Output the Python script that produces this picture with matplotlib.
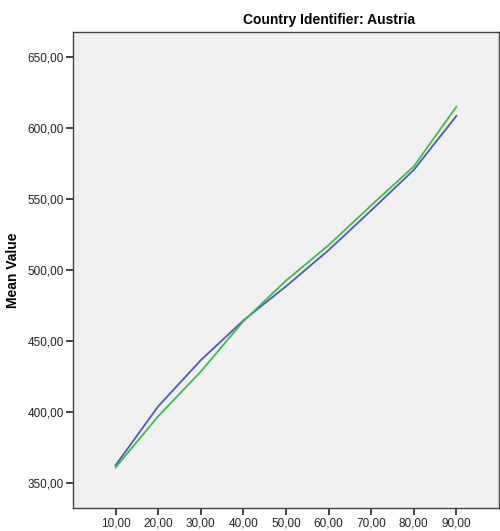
import matplotlib
matplotlib.use("Agg")
import matplotlib.pyplot as plt
from matplotlib.ticker import FuncFormatter

# percentile points and the two mean-value series
percentiles = [10, 20, 30, 40, 50, 60, 70, 80, 90]
series_blue = [362.5, 404.0, 436.5, 464.5, 488.5, 514.0, 542.0, 570.5, 608.5]
series_green = [361.0, 397.0, 428.5, 464.0, 492.5, 517.5, 545.5, 573.0, 615.0]
y_ticks = [350, 400, 450, 500, 550, 600, 650]

plt.rcParams['font.family'] = ['Liberation Sans', 'DejaVu Sans']

fig = plt.figure(figsize=(5.0, 5.31), dpi=100)
ax = fig.add_axes([0.146, 0.0433, 0.852, 0.8964])
ax.set_facecolor('#F0F0F0')

ax.plot(percentiles, series_blue, color='#4A5CB4', linewidth=1.3)
ax.plot(percentiles, series_green, color='#3DBB50', linewidth=1.3)

ax.set_xlim(0, 100)
ax.set_ylim(332.4, 667.6)
ax.set_xticks(percentiles)
ax.set_yticks(y_ticks)
comma = FuncFormatter(lambda v, pos: f"{v:.2f}".replace('.', ','))
ax.xaxis.set_major_formatter(comma)
ax.yaxis.set_major_formatter(comma)
ax.tick_params(axis='both', labelsize=8.5, length=5, width=1.3, color='#333333',
               labelcolor='#222222', pad=1.5)

for side in ax.spines.values():
    side.set_color('#444444')
    side.set_linewidth(1.0)

ax.set_ylabel('Mean Value', fontsize=10, fontweight='bold', labelpad=6)
ax.yaxis.set_label_coords(-0.125, 0.5)
fig.text(0.658, 0.962, 'Country Identifier: Austria', ha='center', va='center',
         fontsize=10, fontweight='bold')

fig.savefig('out.png', dpi=100)
